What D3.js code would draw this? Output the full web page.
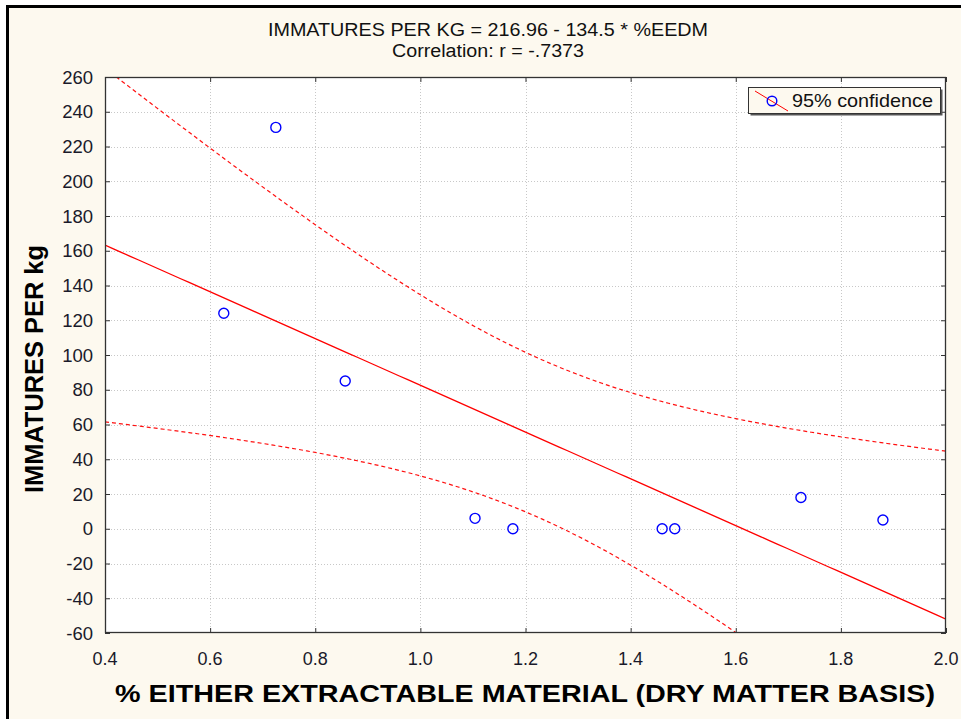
<!DOCTYPE html>
<html><head><meta charset="utf-8">
<script src="https://cdn.jsdelivr.net/npm/d3@7"></script>
<style>body{margin:0;background:#fff}svg{display:block}</style>
</head><body>
<svg id="c" width="961" height="719"></svg>
<script>
// data
const pctEEDM = [0.626, 0.725, 0.857, 1.104, 1.176, 1.460, 1.484, 1.724, 1.880];
const immaturesPerKg = [124, 231, 85, 6, 0, 0, 0, 18, 5];
const xTicks = [0.4, 0.6, 0.8, 1.0, 1.2, 1.4, 1.6, 1.8, 2.0];
const yTicks = [-60, -40, -20, 0, 20, 40, 60, 80, 100, 120, 140, 160, 180, 200, 220, 240, 260];
const titleLines = ["IMMATURES PER KG = 216.96 - 134.5  * %EEDM", "Correlation: r = -.7373"];
const titleWidths = [440, 192];
const xTitle = "% EITHER EXTRACTABLE MATERIAL (DRY MATTER BASIS)";
const yTitle = "IMMATURES PER kg";
const legendLabel = "95% confidence";
const tCrit = 2.365; // t(0.975, df=7)

const svg = d3.select("#c");
const L = 105, R = 946, T = 77, B = 633;
const x = d3.scaleLinear().domain([0.4, 2.0]).range([L, R]);
const y = d3.scaleLinear().domain([-60, 260]).range([B, T]);

// background / frame
svg.append("rect").attr("x", 0).attr("y", 0).attr("width", 961).attr("height", 719).attr("fill", "#fff");
svg.append("rect").attr("x", 7.5).attr("y", 6.5).attr("width", 1000).attr("height", 1000)
  .attr("fill", "#fdf9ef").attr("stroke", "#000").attr("stroke-width", 3);
svg.append("rect").attr("x", L).attr("y", T).attr("width", R - L).attr("height", B - T).attr("fill", "#fff");

// grid
const g = svg.append("g");
g.selectAll(".gx").data(xTicks.slice(1, -1)).join("line")
  .attr("x1", d => Math.round(x(d)) + 0.5).attr("x2", d => Math.round(x(d)) + 0.5)
  .attr("y1", T).attr("y2", B).attr("stroke", "#c8c8c8").attr("stroke-dasharray", "1,2");
g.selectAll(".gy").data(yTicks.slice(1, -1)).join("line")
  .attr("y1", d => Math.round(y(d)) + 0.5).attr("y2", d => Math.round(y(d)) + 0.5)
  .attr("x1", L).attr("x2", R).attr("stroke", "#c8c8c8").attr("stroke-dasharray", "1,2");

// regression + confidence band computed from the data
const n = pctEEDM.length;
const mx = d3.mean(pctEEDM), my = d3.mean(immaturesPerKg);
let sxx = 0, sxy = 0;
pctEEDM.forEach((v, i) => { sxx += (v - mx) ** 2; sxy += (v - mx) * (immaturesPerKg[i] - my); });
const slope = sxy / sxx, icpt = my - slope * mx;
let sse = 0;
pctEEDM.forEach((v, i) => { sse += (immaturesPerKg[i] - (icpt + slope * v)) ** 2; });
const s = Math.sqrt(sse / (n - 2));
const xs = d3.range(0, 101).map(i => 0.4 + 1.6 * i / 100);
const fit = xs.map(v => ({ x: v, y: icpt + slope * v, h: tCrit * s * Math.sqrt(1 / n + (v - mx) ** 2 / sxx) }));

svg.append("clipPath").attr("id", "clip").append("rect").attr("x", L).attr("y", T).attr("width", R - L).attr("height", B - T);
const plot = svg.append("g").attr("clip-path", "url(#clip)");
const line = d3.line().x(d => x(d[0])).y(d => y(d[1]));
plot.append("path").attr("d", line(fit.map(d => [d.x, d.y]))).attr("fill", "none").attr("stroke", "#ff0000").attr("stroke-width", 1.3);
plot.append("path").attr("d", line(fit.map(d => [d.x, d.y + d.h]))).attr("fill", "none").attr("stroke", "#ff1010").attr("stroke-width", 1.2).attr("stroke-dasharray", "4,3");
plot.append("path").attr("d", line(fit.map(d => [d.x, d.y - d.h]))).attr("fill", "none").attr("stroke", "#ff1010").attr("stroke-width", 1.2).attr("stroke-dasharray", "4,3");

// points
plot.selectAll("circle").data(pctEEDM).join("circle")
  .attr("cx", d => x(d)).attr("cy", (d, i) => y(immaturesPerKg[i])).attr("r", 5)
  .attr("fill", "none").attr("stroke", "#0000ff").attr("stroke-width", 1.4);

// frame of plot
svg.append("rect").attr("x", L + 0.5).attr("y", T + 0.5).attr("width", R - L - 1).attr("height", B - T - 1)
  .attr("fill", "none").attr("stroke", "#333").attr("stroke-width", 1.3);

// axes (inward ticks on all sides)
const tk = 5;
const axL = svg.append("g").attr("transform", `translate(${L},0)`).call(d3.axisRight(y).tickValues(yTicks).tickSize(tk).tickFormat(""));
const axR = svg.append("g").attr("transform", `translate(${R},0)`).call(d3.axisLeft(y).tickValues(yTicks).tickSize(tk).tickFormat(""));
const axB = svg.append("g").attr("transform", `translate(0,${B})`).call(d3.axisTop(x).tickValues(xTicks).tickSize(tk).tickFormat(""));
const axT = svg.append("g").attr("transform", `translate(0,${T})`).call(d3.axisBottom(x).tickValues(xTicks).tickSize(tk).tickFormat(""));
[axL, axR, axB, axT].forEach(a => { a.select(".domain").remove(); a.selectAll("line").attr("stroke", "#333"); });

// tick labels
svg.append("g").selectAll("text").data(yTicks).join("text")
  .attr("x", 93).attr("y", d => y(d) + 6.5).attr("text-anchor", "end")
  .attr("font-family", "Liberation Sans, Arial, sans-serif").attr("font-size", 18.5).attr("fill", "#1a1a2a")
  .text(d => d);
svg.append("g").selectAll("text").data(xTicks).join("text")
  .attr("x", d => x(d)).attr("y", 665).attr("text-anchor", "middle")
  .attr("font-family", "Liberation Sans, Arial, sans-serif").attr("font-size", 18).attr("fill", "#1a1a2a")
  .text(d => d3.format(".1f")(d));

// titles
svg.append("g").selectAll("text").data(titleLines).join("text")
  .attr("x", 488).attr("y", (d, i) => 36 + i * 21).attr("text-anchor", "middle")
  .attr("font-family", "Liberation Sans, Arial, sans-serif").attr("font-size", 18).attr("fill", "#111")
  .attr("textLength", (d, i) => titleWidths[i]).attr("lengthAdjust", "spacingAndGlyphs")
  .text(d => d);
svg.append("text").attr("x", 525).attr("y", 702).attr("text-anchor", "middle")
  .attr("font-family", "Liberation Sans, Arial, sans-serif").attr("font-weight", "bold").attr("font-size", 24)
  .attr("textLength", 820).attr("lengthAdjust", "spacingAndGlyphs").attr("fill", "#000").text(xTitle);
svg.append("text").attr("transform", "translate(43,369) rotate(-90)").attr("text-anchor", "middle")
  .attr("font-family", "Liberation Sans, Arial, sans-serif").attr("font-weight", "bold").attr("font-size", 25)
  .attr("textLength", 248).attr("lengthAdjust", "spacingAndGlyphs").attr("fill", "#000").text(yTitle);

// legend
const lg = svg.append("g");
lg.append("rect").attr("x", 750.5).attr("y", 89.5).attr("width", 192).attr("height", 26).attr("fill", "#555");
lg.append("rect").attr("x", 748.5).attr("y", 87.5).attr("width", 192).attr("height", 26).attr("fill", "#fdf9ef").attr("stroke", "#333");
lg.append("line").attr("x1", 755).attr("y1", 91).attr("x2", 788).attr("y2", 111).attr("stroke", "#ff0000").attr("stroke-width", 1);
lg.append("circle").attr("cx", 772).attr("cy", 101).attr("r", 4.8).attr("fill", "none").attr("stroke", "#0000ff").attr("stroke-width", 1.4);
lg.append("text").attr("x", 792).attr("y", 107).attr("font-family", "Liberation Sans, Arial, sans-serif")
  .attr("font-size", 19).attr("textLength", 141).attr("lengthAdjust", "spacingAndGlyphs").attr("fill", "#111").text(legendLabel);
</script>
</body></html>
